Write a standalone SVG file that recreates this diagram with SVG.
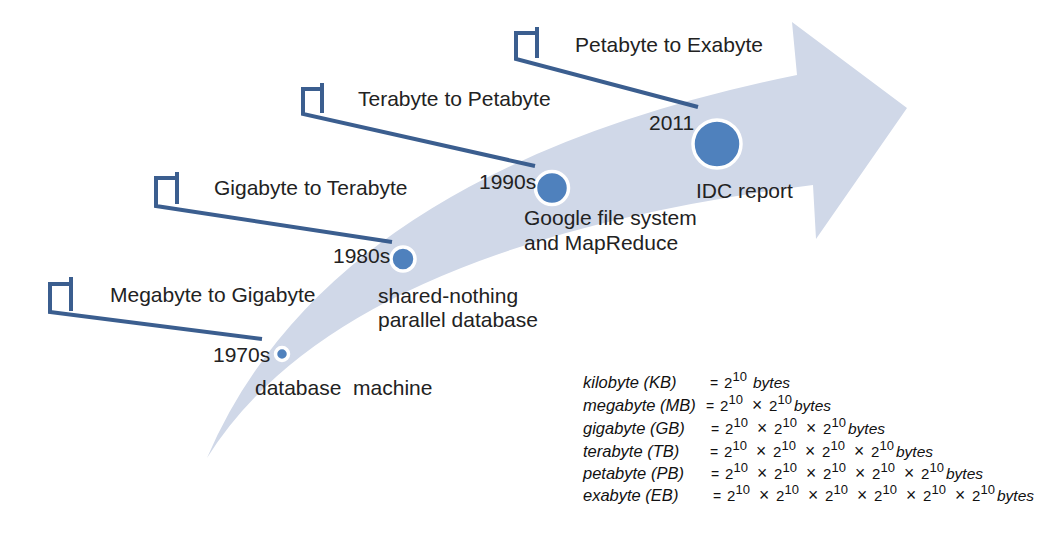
<svg xmlns="http://www.w3.org/2000/svg" width="1062" height="536" viewBox="0 0 1062 536">
<style>
.lbl{font-family:"Liberation Sans",Arial,sans-serif;font-size:21px;fill:#222}
.f{font-family:"Liberation Sans",Arial,sans-serif;font-size:16.5px;fill:#111}
.it{font-style:italic}
.b{font-style:italic;font-size:15.5px}
.eq{font-size:14px}
.x{font-size:17.5px}
.two{font-size:15px}
.sup{font-size:13px}
.call{fill:none;stroke:#3B5E8F;stroke-width:4;stroke-linejoin:miter}
.dot{fill:#4F81BD;stroke:#fff;stroke-width:3.5}
</style>
<rect width="1062" height="536" fill="#fff"/>
<g id="arrow">
<path d="M207,458 Q330,170 797,75 L792,22 L907,108 L816,239 L813,185 Q340,245 207,458 Z" fill="#D0D8E8"/>
</g>
<g id="connectors">
<path class="call" d="M262,339 L50,312 L50,284 L71,284"/>
<path class="call" d="M71,277 L71,311"/>
<path class="call" d="M392,242 L156,206 L156,178 L177,178"/>
<path class="call" d="M177,172 L177,204"/>
<path class="call" d="M535,166 L303,114 L303,89 L322,89"/>
<path class="call" d="M322,83 L322,113"/>
<path class="call" d="M698,107 L516,59 L516,33 L537,33"/>
<path class="call" d="M537,27 L537,58"/>
</g>
<g id="n1970">
<circle class="dot" cx="282" cy="354" r="6.5"/>
<text class="lbl" x="110" y="302">Megabyte to Gigabyte</text>
<text class="lbl" x="213" y="362">1970s</text>
<text class="lbl" x="255" y="395" xml:space="preserve">database  machine</text>
</g>
<g id="n1980">
<circle class="dot" cx="403" cy="259" r="12"/>
<text class="lbl" x="214" y="195">Gigabyte to Terabyte</text>
<text class="lbl" x="333" y="263">1980s</text>
<text class="lbl" x="378" y="303">shared-nothing</text>
<text class="lbl" x="378" y="327">parallel database</text>
</g>
<g id="n1990">
<circle class="dot" cx="552" cy="188" r="16.5"/>
<text class="lbl" x="358" y="106">Terabyte to Petabyte</text>
<text class="lbl" x="479" y="189">1990s</text>
<text class="lbl" x="524" y="225">Google file system</text>
<text class="lbl" x="524" y="250">and MapReduce</text>
</g>
<g id="n2011">
<circle class="dot" cx="717" cy="144" r="24"/>
<text class="lbl" x="575" y="52">Petabyte to Exabyte</text>
<text class="lbl" x="649" y="130">2011</text>
<text class="lbl" x="696" y="198">IDC report</text>
</g>
<g id="units" class="f">
<text y="388"><tspan class="it" x="583">kilobyte (KB)</tspan><tspan class="eq" x="710">=</tspan><tspan class="two" x="724">2</tspan><tspan class="sup" x="732.5" dy="-7">10</tspan><tspan class="b" x="753" dy="7">bytes</tspan></text>
<text y="411"><tspan class="it" x="583">megabyte (MB)</tspan><tspan class="eq" x="706">=</tspan><tspan class="two" x="720">2</tspan><tspan class="sup" x="728.5" dy="-7">10</tspan><tspan class="x" x="752" dy="7">×</tspan><tspan class="two" x="769">2</tspan><tspan class="sup" x="777.5" dy="-7">10</tspan><tspan class="b" x="794" dy="7">bytes</tspan></text>
<text y="434"><tspan class="it" x="583">gigabyte (GB)</tspan><tspan class="eq" x="711">=</tspan><tspan class="two" x="725">2</tspan><tspan class="sup" x="733.5" dy="-7">10</tspan><tspan class="x" x="757" dy="7">×</tspan><tspan class="two" x="774">2</tspan><tspan class="sup" x="782.5" dy="-7">10</tspan><tspan class="x" x="806" dy="7">×</tspan><tspan class="two" x="823">2</tspan><tspan class="sup" x="831.5" dy="-7">10</tspan><tspan class="b" x="848" dy="7">bytes</tspan></text>
<text y="457"><tspan class="it" x="583">terabyte (TB)</tspan><tspan class="eq" x="710">=</tspan><tspan class="two" x="724">2</tspan><tspan class="sup" x="732.5" dy="-7">10</tspan><tspan class="x" x="756" dy="7">×</tspan><tspan class="two" x="773">2</tspan><tspan class="sup" x="781.5" dy="-7">10</tspan><tspan class="x" x="805" dy="7">×</tspan><tspan class="two" x="822">2</tspan><tspan class="sup" x="830.5" dy="-7">10</tspan><tspan class="x" x="854" dy="7">×</tspan><tspan class="two" x="871">2</tspan><tspan class="sup" x="879.5" dy="-7">10</tspan><tspan class="b" x="896" dy="7">bytes</tspan></text>
<text y="479"><tspan class="it" x="583">petabyte (PB)</tspan><tspan class="eq" x="711">=</tspan><tspan class="two" x="725">2</tspan><tspan class="sup" x="733.5" dy="-7">10</tspan><tspan class="x" x="757" dy="7">×</tspan><tspan class="two" x="774">2</tspan><tspan class="sup" x="782.5" dy="-7">10</tspan><tspan class="x" x="806" dy="7">×</tspan><tspan class="two" x="823">2</tspan><tspan class="sup" x="831.5" dy="-7">10</tspan><tspan class="x" x="855" dy="7">×</tspan><tspan class="two" x="872">2</tspan><tspan class="sup" x="880.5" dy="-7">10</tspan><tspan class="x" x="904" dy="7">×</tspan><tspan class="two" x="921">2</tspan><tspan class="sup" x="929.5" dy="-7">10</tspan><tspan class="b" x="946" dy="7">bytes</tspan></text>
<text y="501"><tspan class="it" x="583">exabyte (EB)</tspan><tspan class="eq" x="713">=</tspan><tspan class="two" x="727">2</tspan><tspan class="sup" x="735.5" dy="-7">10</tspan><tspan class="x" x="759" dy="7">×</tspan><tspan class="two" x="776">2</tspan><tspan class="sup" x="784.5" dy="-7">10</tspan><tspan class="x" x="808" dy="7">×</tspan><tspan class="two" x="825">2</tspan><tspan class="sup" x="833.5" dy="-7">10</tspan><tspan class="x" x="857" dy="7">×</tspan><tspan class="two" x="874">2</tspan><tspan class="sup" x="882.5" dy="-7">10</tspan><tspan class="x" x="906" dy="7">×</tspan><tspan class="two" x="923">2</tspan><tspan class="sup" x="931.5" dy="-7">10</tspan><tspan class="x" x="955" dy="7">×</tspan><tspan class="two" x="972">2</tspan><tspan class="sup" x="980.5" dy="-7">10</tspan><tspan class="b" x="997" dy="7">bytes</tspan></text>
</g>
</svg>
